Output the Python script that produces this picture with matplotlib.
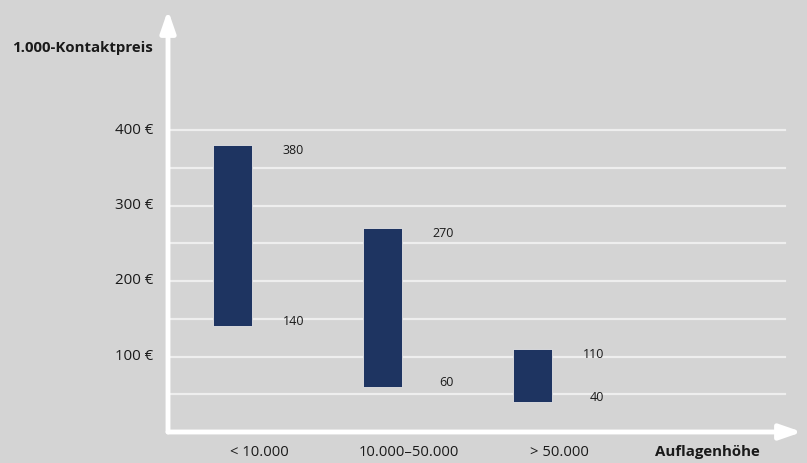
import matplotlib
matplotlib.use("Agg")
import matplotlib.pyplot as plt

categories = ["< 10.000", "10.000–50.000", "> 50.000"]
low_values = [140, 60, 40]
high_values = [380, 270, 110]
yticks = [100, 200, 300, 400]
ytick_labels = ["100 €", "200 €", "300 €", "400 €"]

W, H = 807, 463
fig = plt.figure(figsize=(W / 100, H / 100), dpi=100)
bg = "#d4d4d4"
fig.patch.set_facecolor(bg)
plt.rcParams['font.family'] = ['Open Sans', 'DejaVu Sans']

# axes placed so that origin is at pixel (168, 432)
x0, y0 = 168, 432
x1, y1 = 805, 0
ax = fig.add_axes([x0 / W, (H - y0) / H, (x1 - x0) / W, (y0 - y1) / H])
ax.set_facecolor(bg)
px_per_unit_y = 0.755
ax.set_ylim(0, (y0 - y1) / px_per_unit_y)
spacing = 150.0
left = -(232 - x0) / spacing
ax.set_xlim(left, left + (x1 - x0) / spacing)
for s in ax.spines.values():
    s.set_visible(False)
ax.set_xticks([])
ax.set_yticks([])

# gridlines
grid_end = (785 - x0) / (x1 - x0)
for v in range(50, 401, 50):
    ax.axhline(v, xmin=0, xmax=grid_end, color="#eeeeee", lw=1.6, zorder=1)

# bars
xs = list(range(len(categories)))
heights = [h - l for h, l in zip(high_values, low_values)]
ax.bar(xs, heights, bottom=low_values, width=39 / spacing, color="#1e3461",
       edgecolor="#e6e6e6", linewidth=0.6, zorder=3)

# value labels
for x, lo, hi in zip(xs, low_values, high_values):
    ax.text(x + 72 / spacing, hi - 7, str(hi), ha="right", va="center",
            fontsize=9, color="#1a1a1a", zorder=4)
    ax.text(x + 72 / spacing, lo + 6, str(lo), ha="right",
            va="center", fontsize=9, color="#1a1a1a", zorder=4)

# axes arrows
ymax = (y0 - 10) / px_per_unit_y
ax.annotate("", xy=(left, ymax), xytext=(left, 0),
            arrowprops=dict(arrowstyle="-|>,head_length=1.3,head_width=0.45",
                            color="white", lw=3.5, shrinkA=0, shrinkB=0),
            annotation_clip=False, zorder=5)
ax.annotate("", xy=(left + (802 - x0) / spacing, 0), xytext=(left, 0),
            arrowprops=dict(arrowstyle="-|>,head_length=1.3,head_width=0.45",
                            color="white", lw=3.5, shrinkA=0, shrinkB=0),
            annotation_clip=False, zorder=5)

# y tick labels
for v, lab in zip(yticks, ytick_labels):
    ax.text(left - 15 / spacing, v, lab, ha="right", va="center",
            fontsize=10.8, color="#1a1a1a", clip_on=False)

# category labels
for x, c in zip(xs, categories):
    ax.text(x + 27 / spacing, -20 / px_per_unit_y, c, ha="center", va="center",
            fontsize=10.6, color="#1a1a1a", clip_on=False)

fig.text(655 / W, 1 - 452 / H, "Auflagenhöhe", ha="left", va="center",
         fontsize=10.8, fontweight="bold", color="#1a1a1a")
fig.text(12 / W, 1 - 48 / H, "1.000-Kontaktpreis", ha="left", va="center",
         fontsize=10.8, fontweight="bold", color="#1a1a1a")

fig.savefig("out.png", dpi=100, facecolor=bg)
